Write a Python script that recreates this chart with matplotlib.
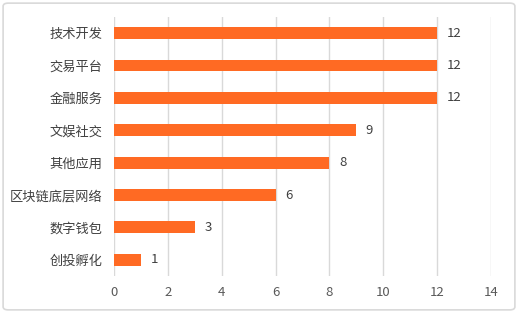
import matplotlib.pyplot as plt
from matplotlib.patches import FancyBboxPatch

plt.rcParams['font.family'] = ['Noto Sans CJK SC', 'DejaVu Sans']

categories = ['技术开发', '交易平台', '金融服务', '文娱社交', '其他应用', '区块链底层网络', '数字钱包', '创投孵化']
counts = [12, 12, 12, 9, 8, 6, 3, 1]
xticks = [0, 2, 4, 6, 8, 10, 12, 14]

fig = plt.figure(figsize=(5.18, 3.13), dpi=100)
ax = fig.add_axes([0.220, 0.118, 0.728, 0.828])

# outer frame around the chart
frame = FancyBboxPatch((0.006, 0.01), 0.988, 0.98, boxstyle='round,pad=0,rounding_size=0.01',
                       transform=fig.transFigure, fill=False, edgecolor='#d9d9d9', linewidth=1.2)
fig.patches.append(frame)

y = list(range(len(categories)))
ax.barh(y, counts, height=0.37, color='#FF6A23', zorder=3)
for yi, v in zip(y, counts):
    ax.text(v + 0.35, yi, str(v), va='center', ha='left', fontsize=9.5, color='#404040')

ax.set_yticks(y)
ax.set_yticklabels(categories, fontsize=9.5, color='#404040')
ax.set_ylim(len(categories) - 0.5, -0.5)
ax.set_xlim(0, 14)
ax.set_xticks(xticks)
ax.set_xticklabels([str(t) for t in xticks], fontsize=9.5, color='#595959')
ax.tick_params(length=0, pad=8)
ax.tick_params(axis='x', pad=7)
ax.grid(axis='x', color='#d9d9d9', linewidth=1, zorder=0)
for s in ax.spines.values():
    s.set_visible(False)

fig.savefig('out.png', dpi=100)
